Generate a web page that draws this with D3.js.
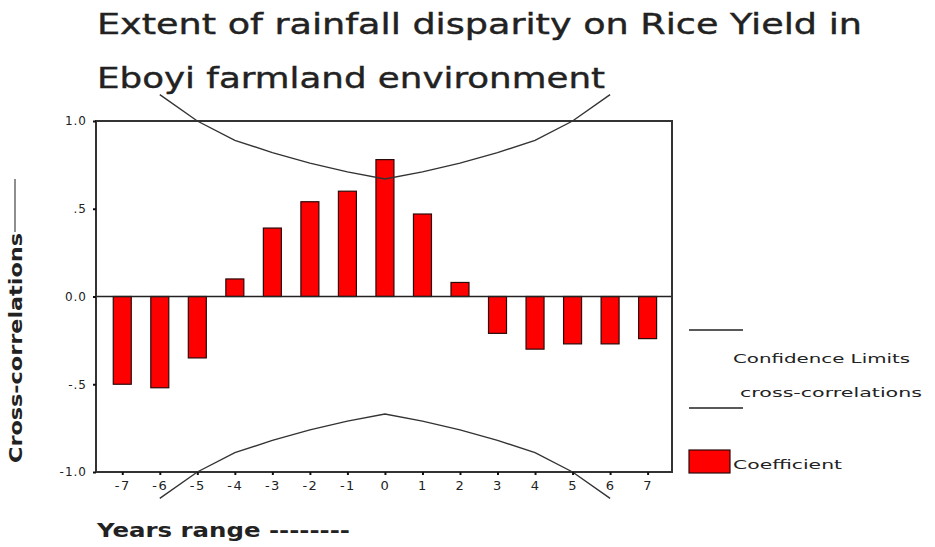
<!DOCTYPE html>
<html>
<head>
<meta charset="utf-8">
<script src="https://cdn.jsdelivr.net/npm/d3@7"></script>
<style>
  body { margin: 0; background: #fff; }
  svg { display: block; }
  text { font-family: "DejaVu Sans", sans-serif; fill: #222; }
</style>
</head>
<body>
<div id="d3-container"></div>
<script>
// lag values on the x axis
const lags = [-7, -6, -5, -4, -3, -2, -1, 0, 1, 2, 3, 4, 5, 6, 7]
// cross-correlation coefficient per lag
const coefficients = [-0.50, -0.52, -0.35, 0.10, 0.39, 0.54, 0.60, 0.78, 0.47, 0.08, -0.21, -0.30, -0.27, -0.27, -0.24]
// confidence limits (drawn a bit outside the box, like the original)
const limitLags = [-6, -5, -4, -3, -2, -1, 0, 1, 2, 3, 4, 5, 6]
const upperLimit = [1.15, 1.00, 0.89, 0.82, 0.76, 0.71, 0.67, 0.71, 0.76, 0.82, 0.89, 1.00, 1.15]
const lowerLimit = [-1.15, -1.00, -0.89, -0.82, -0.76, -0.71, -0.67, -0.71, -0.76, -0.82, -0.89, -1.00, -1.15]
const yTicks = [1.0, 0.5, 0, -0.5, -1.0]
const yTickLabels = ["1.0", ".5", "0.0", "-.5", "-1.0"]

function main(){
    const width = 935
    const height = 547
    const box = {left: 96, right: 672, top: 121, bottom: 472}

    const svg = d3.select('#d3-container')
        .append('svg')
        .attr('width', width)
        .attr('height', height)

    const x = d3.scaleLinear()
        .domain([-7.7, 7.65])
        .range([box.left, box.right])

    const y = d3.scaleLinear()
        .domain([-1, 1])
        .range([box.bottom, box.top])

    // title
    svg.append('text')
        .attr('x', 97).attr('y', 34)
        .attr('font-size', 28)
        .attr('stroke', '#222').attr('stroke-width', 0.4)
        .attr('textLength', 765)
        .attr('lengthAdjust', 'spacingAndGlyphs')
        .text('Extent of rainfall disparity on Rice Yield in')
    svg.append('text')
        .attr('x', 97).attr('y', 88)
        .attr('font-size', 28)
        .attr('stroke', '#222').attr('stroke-width', 0.4)
        .attr('textLength', 508)
        .attr('lengthAdjust', 'spacingAndGlyphs')
        .text('Eboyi farmland environment')

    // bars
    const barW = 18
    svg.append('g')
        .selectAll('rect')
        .data(lags)
        .join('rect')
            .attr('x', (d) => x(d) - barW / 2)
            .attr('y', (d, i) => y(Math.max(0, coefficients[i])))
            .attr('width', barW)
            .attr('height', (d, i) => Math.abs(y(coefficients[i]) - y(0)))
            .attr('fill', '#ff0000')
            .attr('stroke', '#2a0a0a')
            .attr('stroke-width', 1.2)

    // zero line
    svg.append('line')
        .attr('x1', box.left).attr('x2', box.right)
        .attr('y1', y(0)).attr('y2', y(0))
        .attr('stroke', '#222').attr('stroke-width', 1.5)

    // frame
    svg.append('rect')
        .attr('x', box.left).attr('y', box.top)
        .attr('width', box.right - box.left)
        .attr('height', box.bottom - box.top)
        .attr('fill', 'none')
        .attr('stroke', '#333').attr('stroke-width', 2)

    // confidence limit lines
    const line = d3.line()
        .x((d) => x(d[0]))
        .y((d) => y(d[1]))
    svg.append('path')
        .attr('d', line(limitLags.map((l, i) => [l, upperLimit[i]])))
        .attr('fill', 'none').attr('stroke', '#333').attr('stroke-width', 1.4)
    svg.append('path')
        .attr('d', line(limitLags.map((l, i) => [l, lowerLimit[i]])))
        .attr('fill', 'none').attr('stroke', '#333').attr('stroke-width', 1.4)

    // y axis
    const yAxis = d3.axisLeft(y)
        .tickValues(yTicks)
        .tickSize(3)
        .tickPadding(6)
        .tickFormat((d, i) => yTickLabels[i])
    svg.append('g')
        .attr('transform', `translate(${box.left}, 0)`)
        .call(yAxis)
        .call(g => g.select('.domain').remove())
        .call(g => g.selectAll('line').attr('stroke', '#111').attr('stroke-width', 2))
        .call(g => g.selectAll('text')
            .attr('font-size', 12)
            .attr('letter-spacing', 1)
            .attr('fill', '#333'))

    // x axis (plain hyphen for negatives, as in the original)
    const xAxis = d3.axisBottom(x)
        .tickValues(lags)
        .tickSize(3)
        .tickPadding(6)
        .tickFormat((d) => String(d))
    svg.append('g')
        .attr('transform', `translate(0, ${box.bottom})`)
        .call(xAxis)
        .call(g => g.select('.domain').remove())
        .call(g => g.selectAll('line').attr('stroke', '#111').attr('stroke-width', 2))
        .call(g => g.selectAll('text')
            .attr('font-size', 13)
            .attr('letter-spacing', 1.5)
            .attr('fill', '#333'))

    // axis titles
    svg.append('text')
        .attr('transform', 'translate(22, 463) rotate(-90)')
        .attr('font-size', 18)
        .attr('font-weight', 'bold')
        .attr('textLength', 230)
        .attr('lengthAdjust', 'spacingAndGlyphs')
        .text('Cross-correlations')
    svg.append('line')
        .attr('x1', 15).attr('x2', 15)
        .attr('y1', 179).attr('y2', 232)
        .attr('stroke', '#444').attr('stroke-width', 1.2)

    svg.append('text')
        .attr('x', 97).attr('y', 537)
        .attr('font-size', 19)
        .attr('font-weight', 'bold')
        .attr('textLength', 253)
        .attr('lengthAdjust', 'spacingAndGlyphs')
        .text('Years range --------')

    // legend
    const lg = svg.append('g')
    lg.append('line')
        .attr('x1', 689).attr('x2', 743).attr('y1', 330).attr('y2', 330)
        .attr('stroke', '#222').attr('stroke-width', 1.6)
    lg.append('text')
        .attr('x', 733).attr('y', 363)
        .attr('font-size', 13)
        .attr('textLength', 177)
        .attr('lengthAdjust', 'spacingAndGlyphs')
        .text('Confidence Limits')
    lg.append('text')
        .attr('x', 740).attr('y', 397)
        .attr('font-size', 13)
        .attr('textLength', 182)
        .attr('lengthAdjust', 'spacingAndGlyphs')
        .text('cross-correlations')
    lg.append('line')
        .attr('x1', 689).attr('x2', 743).attr('y1', 408).attr('y2', 408)
        .attr('stroke', '#222').attr('stroke-width', 1.6)
    lg.append('rect')
        .attr('x', 689).attr('y', 450)
        .attr('width', 41).attr('height', 23)
        .attr('fill', '#ff0000')
        .attr('stroke', '#2a0a0a').attr('stroke-width', 1.2)
    lg.append('text')
        .attr('x', 733).attr('y', 469)
        .attr('font-size', 13)
        .attr('textLength', 109)
        .attr('lengthAdjust', 'spacingAndGlyphs')
        .text('Coefficient')
}

main()
</script>
</body>
</html>
